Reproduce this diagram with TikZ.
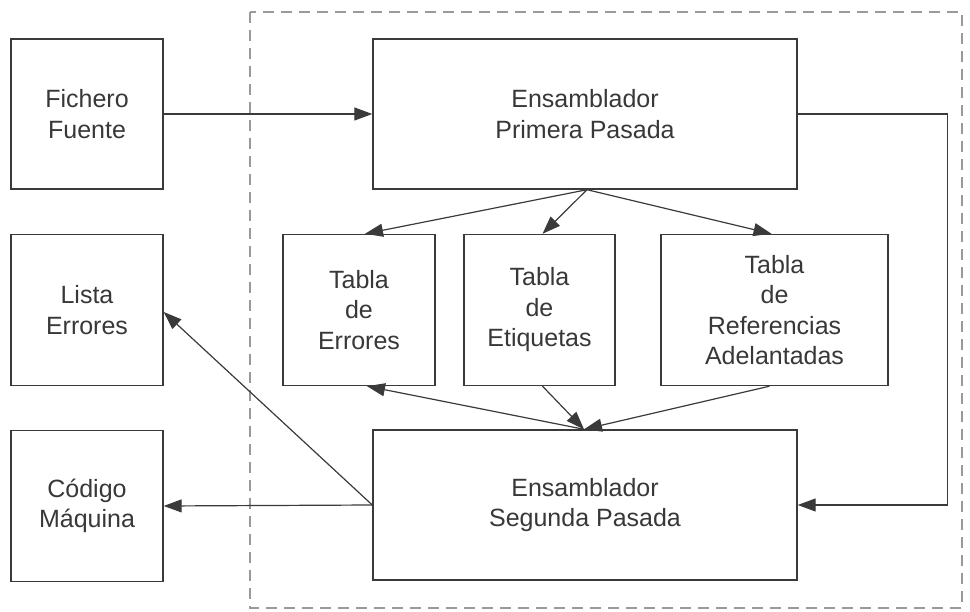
\documentclass[tikz,border=0pt]{standalone}
\usepackage{fontspec}
\setmainfont{Liberation Sans}
\usetikzlibrary{arrows.meta,calc}
\definecolor{lineC}{HTML}{3A3A3A}
\definecolor{textC}{HTML}{383838}
\definecolor{dashC}{HTML}{9A9A9A}
\tikzset{
  box/.style={draw=lineC,line width=1.4pt,rectangle,align=center,text=textC,
    font=\fontsize{25}{30.5}\selectfont,inner sep=0pt},
  conn/.style={draw=lineC,line width=1.2pt,-{Triangle[length=18pt,width=13pt]}},
  frame/.style={draw=dashC,line width=2pt,dash pattern=on 11pt off 7pt}
}
\begin{document}
\begin{tikzpicture}[x=1pt,y=-1pt]
\useasboundingbox (0,0) rectangle (970,612);
\draw[frame] (250,12) rectangle (962,608);
\node[box,minimum width=152pt,minimum height=150pt] (fich) at (87,114) {Fichero\\Fuente};
\node[box,minimum width=152pt,minimum height=151pt] (lista) at (87,310) {Lista\\Errores};
\node[box,minimum width=152pt,minimum height=151pt] (codigo) at (87,506) {Código\\Máquina};
\node[box,minimum width=424pt,minimum height=150pt] (prim) at (585,114) {Ensamblador\\Primera Pasada};
\node[box,minimum width=424pt,minimum height=150pt] (seg) at (585,505) {Ensamblador\\Segunda Pasada};
\node[box,minimum width=152pt,minimum height=151pt] (terr) at (359,310) {Tabla\\de\\Errores};
\node[box,minimum width=151pt,minimum height=151pt] (teti) at (539.5,310) {Tabla\\de\\Etiquetas};
\node[box,minimum width=227pt,minimum height=151pt] (tref) at (774.5,310) {Tabla\\de\\Referencias\\Adelantadas};
\coordinate (pb) at ($(prim.south)+(2,0)$);
\coordinate (st) at ($(seg.north)+(-1,0)$);
\draw[conn] (fich.east) -- (prim.west);
\draw[conn] (pb) -- ($(terr.north)+(6,0)$);
\draw[conn] (pb) -- ($(teti.north)+(3,0)$);
\draw[conn] (pb) -- ($(tref.north)+(-3,0)$);
\draw[conn] (st) -- ($(terr.south)+(8,0)$);
\draw[conn] ($(teti.south)+(3,0)$) -- (st);
\draw[conn] ($(tref.south)+(-5,0)$) -- (st);
\draw[conn] (prim.east) -- ++(150,0) |- (seg.east);
\draw[conn] (seg.west) -- (codigo.east);
\draw[conn] (seg.west) -- ($(lista.east)+(0,2)$);
\end{tikzpicture}
\end{document}
